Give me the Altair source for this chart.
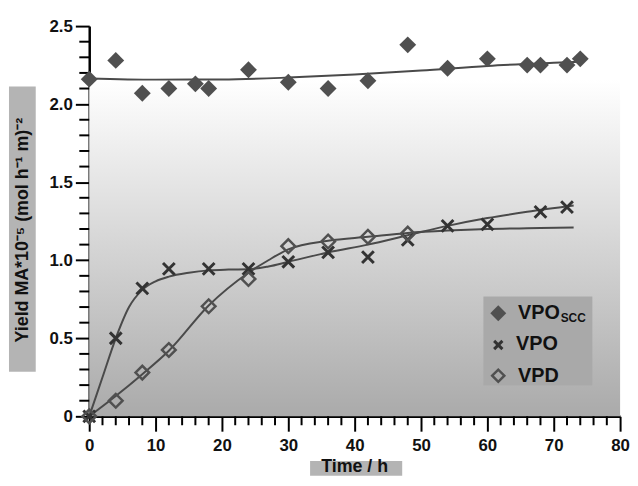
import altair as alt
import pandas as pd

# ---- data ----
t_scc = [0, 4, 8, 12, 16, 18, 24, 30, 36, 42, 48, 54, 60, 66, 68, 72, 74]
y_scc = [2.16, 2.28, 2.07, 2.10, 2.13, 2.10, 2.22, 2.14, 2.10, 2.15, 2.38, 2.23, 2.29, 2.25, 2.25, 2.25, 2.29]

t_vpo = [0, 4, 8, 12, 18, 24, 30, 36, 42, 48, 54, 60, 68, 72]
y_vpo = [0, 0.50, 0.82, 0.945, 0.945, 0.945, 0.99, 1.05, 1.02, 1.13, 1.22, 1.23, 1.31, 1.34]

t_vpd = [0, 4, 8, 12, 18, 24, 30, 36, 42, 48]
y_vpd = [0, 0.10, 0.28, 0.425, 0.705, 0.88, 1.09, 1.12, 1.15, 1.17]

# fitted curves
fx_scc = [0, 10, 20, 30, 40, 50, 60, 70, 74]
fy_scc = [2.165, 2.157, 2.158, 2.17, 2.19, 2.215, 2.245, 2.265, 2.272]

fx_vpo = [0, 2, 4, 6, 8, 10, 12, 15, 18, 21, 24, 27, 30, 36, 42, 48, 54, 60, 66, 73]
fy_vpo = [0, 0.25, 0.5, 0.7, 0.81, 0.865, 0.895, 0.92, 0.935, 0.94, 0.942, 0.96, 0.99, 1.05, 1.10, 1.16, 1.22, 1.27, 1.31, 1.35]

fx_vpd = [0, 4, 8, 12, 18, 24, 27, 30, 36, 42, 48, 54, 60, 66, 73]
fy_vpd = [0, 0.13, 0.27, 0.42, 0.71, 0.92, 1.0, 1.07, 1.125, 1.15, 1.175, 1.19, 1.2, 1.205, 1.21]

x_major = [0, 10, 20, 30, 40, 50, 60, 70, 80]
x_minor = [t for t in range(0, 81, 2) if t % 10 != 0]
y_major = [0, 0.5, 1.0, 1.5, 2.0, 2.5]
y_minor = [round(i * 0.1, 1) for i in range(26) if i % 5 != 0]

W, H = 536, 394
DARK = "#505050"
LINE = "#4a4a4a"
FONT = "Liberation Sans"

xs = alt.Scale(domain=[0, 80], nice=False, zero=False)
ys = alt.Scale(domain=[0, 2.5], nice=False, zero=False)

x_axis = alt.Axis(
    values=x_major, title=None, grid=False, tickSize=15, labelPadding=7,
    labelOverlap=False, labelFlush=False, format="d",
)
y_axis = alt.Axis(
    values=y_major, title=None, grid=False, tickSize=14, labelPadding=3,
    labelOverlap=False, labelFlush=False,
    labelExpr="datum.value === 0 ? '0' : format(datum.value, '.1f')",
)

df_scc = pd.DataFrame({"t": t_scc, "y": y_scc})
df_vpo = pd.DataFrame({"t": t_vpo, "y": y_vpo})
df_vpd = pd.DataFrame({"t": t_vpd, "y": y_vpd})
df_fscc = pd.DataFrame({"t": fx_scc, "y": fy_scc})
df_fvpo = pd.DataFrame({"t": fx_vpo, "y": fy_vpo})
df_fvpd = pd.DataFrame({"t": fx_vpd, "y": fy_vpd})
df_xminor = pd.DataFrame({"t": x_minor})
df_yminor = pd.DataFrame({"y": y_minor})

one = pd.DataFrame({"a": [0]})

grad = alt.LinearGradient(
    gradient="linear", x1=0, x2=0, y1=0, y2=1,
    stops=[alt.GradientStop(color="#ffffff", offset=0),
           alt.GradientStop(color="#aaaaaa", offset=1)],
)
bg = alt.Chart(one).mark_rect(color=grad).encode(
    x=alt.value(0), x2=alt.value(W), y=alt.value(54), y2=alt.value(H)
)

base_axes = alt.Chart(df_scc).mark_point(opacity=0).encode(
    x=alt.X("t:Q", scale=xs, axis=x_axis),
    y=alt.Y("y:Q", scale=ys, axis=y_axis),
)

xminor = alt.Chart(df_xminor).mark_rule(color="#000000", strokeWidth=2).encode(
    x=alt.X("t:Q", scale=xs), y=alt.value(H), y2=alt.value(H + 9))
yminor = alt.Chart(df_yminor).mark_rule(color="#000000", strokeWidth=2).encode(
    y=alt.Y("y:Q", scale=ys), x=alt.value(-10), x2=alt.value(0))


def fit(df):
    return alt.Chart(df).mark_line(color=LINE, strokeWidth=2, interpolate="monotone").encode(
        x=alt.X("t:Q", scale=xs), y=alt.Y("y:Q", scale=ys)
    )


XPATH = "M-1,-1L1,1M-1,1L1,-1"

pts_scc = alt.Chart(df_scc).mark_point(shape="diamond", filled=True, color=DARK, size=290, opacity=1).encode(
    x=alt.X("t:Q", scale=xs), y=alt.Y("y:Q", scale=ys))
pts_vpo = alt.Chart(df_vpo).mark_point(shape=XPATH, filled=False, color="#333333", size=140, strokeWidth=3, opacity=1).encode(
    x=alt.X("t:Q", scale=xs), y=alt.Y("y:Q", scale=ys))
pts_vpd = alt.Chart(df_vpd).mark_point(shape="diamond", filled=False, color=DARK, size=190, strokeWidth=2.5, opacity=1).encode(
    x=alt.X("t:Q", scale=xs), y=alt.Y("y:Q", scale=ys))

# axis titles with grey boxes
ytitle_box = alt.Chart(one).mark_rect(color="#b4b4b4").encode(
    x=alt.value(-81), x2=alt.value(-54), y=alt.value(61), y2=alt.value(349))
ytitle = alt.Chart(one).mark_text(
    text="Yield MA*10⁻⁵ (mol h⁻¹ m)⁻²", angle=270, font=FONT, fontWeight="bold",
    fontSize=18, color="#111111", align="center", baseline="middle").encode(
    x=alt.value(-67), y=alt.value(206))
xtitle_box = alt.Chart(one).mark_rect(color="#b4b4b4").encode(
    x=alt.value(223), x2=alt.value(316), y=alt.value(439), y2=alt.value(454))
xtitle = alt.Chart(one).mark_text(
    text="Time / h", font=FONT, fontWeight="bold", fontSize=18, color="#111111",
    align="center", baseline="middle").encode(x=alt.value(268), y=alt.value(445))

# legend
leg_box = alt.Chart(one).mark_rect(color="#a9a9a9").encode(
    x=alt.value(398), x2=alt.value(508), y=alt.value(273), y2=alt.value(363))
leg_scc = alt.Chart(one).mark_point(shape="diamond", filled=True, color=DARK, size=260, opacity=1).encode(
    x=alt.value(413), y=alt.value(290))
leg_vpo = alt.Chart(one).mark_point(shape=XPATH, filled=False, color="#333333", size=70, strokeWidth=3, opacity=1).encode(
    x=alt.value(413), y=alt.value(322))
leg_vpd = alt.Chart(one).mark_point(shape="diamond", filled=False, color=DARK, size=150, strokeWidth=2.5, opacity=1).encode(
    x=alt.value(413), y=alt.value(353))


def ltext(s, x, y, size):
    return alt.Chart(one).mark_text(text=s, font=FONT, fontWeight="bold", fontSize=size, color="#111111",
                                    align="left", baseline="middle").encode(x=alt.value(x), y=alt.value(y))


leg_t1 = ltext("VPO", 433, 290, 20)
leg_t1s = ltext("SCC", 476, 295, 12)
leg_t2 = ltext("VPO", 431, 321, 20)
leg_t3 = ltext("VPD", 433, 353, 20)

chart = alt.layer(
    bg, ytitle_box, ytitle, xtitle_box, xtitle,
    leg_box, leg_scc, leg_vpo, leg_vpd, leg_t1, leg_t1s, leg_t2, leg_t3,
    base_axes, xminor, yminor, fit(df_fscc), fit(df_fvpo), fit(df_fvpd), pts_scc, pts_vpo, pts_vpd,
).properties(
    width=W, height=H, background="#ffffff",
    autosize=alt.AutoSizeParams(type="none"),
    padding={"left": 82, "top": 16, "right": 10, "bottom": 60},
).configure_view(stroke=None).configure_axis(
    domainColor="#000000", domainWidth=2.5, tickColor="#000000", tickWidth=2,
    labelFont=FONT, labelFontWeight="bold", labelFontSize=17, labelColor="#111111",
)

chart.save("out.html", embed_options={"renderer": "svg", "actions": False})
